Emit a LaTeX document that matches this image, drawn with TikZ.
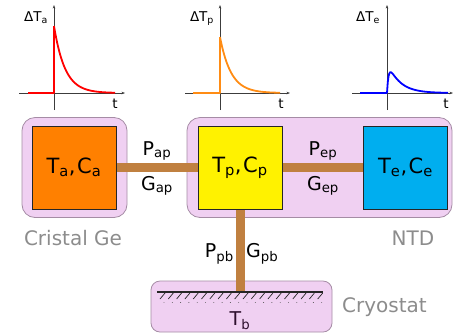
\documentclass[tikz,border=0pt]{standalone}
\usepackage{fontspec}
\setmainfont{DejaVu Sans}
\usetikzlibrary{arrows.meta}
\definecolor{pinkbg}{RGB}{240,208,242}
\definecolor{pinkbd}{RGB}{165,140,165}
\definecolor{brownbar}{RGB}{192,128,64}
\definecolor{orangebox}{RGB}{255,128,0}
\definecolor{yellowbox}{RGB}{255,242,0}
\definecolor{bluebox}{RGB}{0,174,239}
\definecolor{greytxt}{RGB}{140,140,140}
\definecolor{axisc}{RGB}{60,60,60}
\definecolor{curveorange}{RGB}{255,140,20}
\definecolor{tbc}{RGB}{45,15,45}
\newcommand{\sbs}[1]{\textsubscript{#1}}
\newcommand{\cm}{,\hspace{1.5pt}}
\begin{document}
\begin{tikzpicture}[x=1pt,y=-1pt,
  outerbox/.style={draw=pinkbd, fill=pinkbg, rounded corners=13pt, line width=0.8pt, inner sep=0pt},
  innerbox/.style={draw=black!85, line width=0.8pt, inner sep=0pt, minimum width=84pt, minimum height=83pt, font=\fontsize{21}{24}\selectfont},
  bar/.style={draw=brownbar, line width=9pt},
  lbl/.style={font=\fontsize{19}{23}\selectfont, inner sep=0pt},
  grey/.style={font=\fontsize{20}{24}\selectfont, text=greytxt, inner sep=0pt},
  axis/.style={draw=axisc, line width=0.7pt, -{Stealth[length=3.5pt,width=2.6pt]}},
  axlbl/.style={font=\fontsize{13.5}{15}\selectfont, inner sep=0pt},
  curve/.style={line width=1.8pt, line join=round}
]
\useasboundingbox (0,0) rectangle (454,333);

% graph a
\coordinate (ax0) at (19,93); \coordinate (ax1) at (125,93);
\coordinate (ay0) at (54,110); \coordinate (ay1) at (54,5);
\draw[axis] (ax0) -- (ax1);
\draw[axis] (ay0) -- (ay1);
\draw[curve, red] (28,93) -- (54,93) -- (54,26) plot[domain=54:115, samples=60] (\x, {93-67*exp(-(\x-54)/11)});
\node[axlbl, anchor=base] (la) at (36,21) {ΔT\sbs{a}};
\node[axlbl, anchor=base] (ta) at (115,108) {t};

% graph p
\coordinate (bx0) at (185,93); \coordinate (bx1) at (290,93);
\coordinate (by0) at (220,110); \coordinate (by1) at (220,5);
\draw[axis] (bx0) -- (bx1);
\draw[axis] (by0) -- (by1);
\draw[curve, curveorange] (193,93) -- (220,93) -- (220,37) plot[domain=220:280, samples=60] (\x, {93-56*exp(-(\x-220)/11)});
\node[axlbl, anchor=base] (lp) at (202,21) {ΔT\sbs{p}};
\node[axlbl, anchor=base] (tp) at (281,108) {t};

% graph e
\coordinate (cx0) at (352,93); \coordinate (cx1) at (453,93);
\coordinate (cy0) at (387,110); \coordinate (cy1) at (387,5);
\draw[axis] (cx0) -- (cx1);
\draw[axis] (cy0) -- (cy1);
\draw[curve, blue] (360,93) -- (387,93) plot[domain=387:448, samples=80] (\x, {93-32*(exp(-(\x-387)/12)-exp(-(\x-387)/1.5))});
\node[axlbl, anchor=base] (le) at (368,21) {ΔT\sbs{e}};
\node[axlbl, anchor=base] (te) at (446,108) {t};

% outer boxes
\node[outerbox, minimum width=105pt, minimum height=100pt] (ge) at (74.5,167.5) {};
\node[outerbox, minimum width=265pt, minimum height=100pt] (ntd) at (319.5,167.5) {};

% cryostat
\node[outerbox, rounded corners=9pt, minimum width=181pt, minimum height=51pt] (cryo) at (241.5,306.5) {};
\coordinate (hl) at (157,292); \coordinate (hr) at (323,292);

% boxes and bars
\node[innerbox, fill=orangebox] (a) at (74,167.5) {T\sbs{a}\cm C\sbs{a}};
\node[innerbox, fill=yellowbox] (p) at (240,167.5) {T\sbs{p}\cm C\sbs{p}};
\node[innerbox, fill=bluebox] (e) at (405.5,167.5) {T\sbs{e}\cm C\sbs{e}};
\draw[bar] (a.east) -- (p.west);
\draw[bar] (p.east) -- (e.west);
\coordinate (pb) at (240,292);
\draw[bar] (p.south) -- (pb);
\node[innerbox, fill=orangebox] at (a) {T\sbs{a}\cm C\sbs{a}};
\node[innerbox, fill=yellowbox] at (p) {T\sbs{p}\cm C\sbs{p}};
\node[innerbox, fill=bluebox] at (e) {T\sbs{e}\cm C\sbs{e}};

% hatching
\draw[line width=1.3pt, black!85] (hl) -- (hr);
\foreach \i in {0,...,19} {
  \draw[line width=0.7pt, black!85] ({160+8.3*\i},299) -- ({165+8.3*\i},293);
  \fill[black!70] ({164+8.3*\i},302.5) circle (0.45pt);
}

% labels
\node[lbl, anchor=base] (pap) at (157,155) {P\sbs{ap}};
\node[lbl, anchor=base] (gap) at (157,190) {G\sbs{ap}};
\node[lbl, anchor=base] (pep) at (323,155) {P\sbs{ep}};
\node[lbl, anchor=base] (gep) at (323,190) {G\sbs{ep}};
\node[lbl, anchor=base east] (ppb) at (234,257) {P\sbs{pb}};
\node[lbl, anchor=base west] (gpb) at (246,257) {G\sbs{pb}};
\node[lbl, anchor=base, text=tbc] (tb) at (240,325) {T\sbs{b}};

\node[grey, anchor=base] (lge) at (73,245) {Cristal Ge};
\node[grey, anchor=base] (lntd) at (413,245) {NTD};
\node[grey, anchor=base west] (lcryo) at (342,312) {Cryostat};
\end{tikzpicture}
\end{document}
